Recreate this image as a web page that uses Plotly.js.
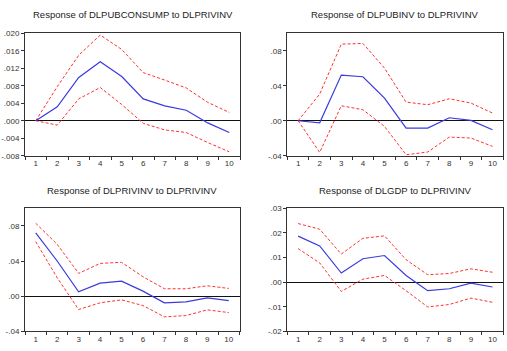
<!DOCTYPE html>
<html>
<head>
<meta charset="utf-8">
<script src="https://cdn.plot.ly/plotly-3.0.1.min.js"></script>
<style>html,body{margin:0;padding:0;background:#fff;}#chart{width:507px;height:351px;}</style>
</head>
<body>
<div id="chart"></div>
<script>
// Periods
const periods = [1, 2, 3, 4, 5, 6, 7, 8, 9, 10];

// Panel titles
const titles = [
  "Response of DLPUBCONSUMP to DLPRIVINV",
  "Response of DLPUBINV to DLPRIVINV",
  "Response of DLPRIVINV to DLPRIVINV",
  "Response of DLGDP to DLPRIVINV"
];

// Panel 1: DLPUBCONSUMP
const pubconsResp  = [0, 0.0032, 0.0099, 0.0135, 0.0101, 0.0050, 0.0034, 0.0024, -0.0005, -0.0027];
const pubconsUpper = [0, 0.0078, 0.0150, 0.0196, 0.0163, 0.0110, 0.0093, 0.0075, 0.0042, 0.0019];
const pubconsLower = [0, -0.0010, 0.0050, 0.0076, 0.0037, -0.0006, -0.0021, -0.0027, -0.0050, -0.0071];

// Panel 2: DLPUBINV
const pubinvResp  = [0, -0.0023, 0.0522, 0.0503, 0.0259, -0.0084, -0.0084, 0.0034, 0.0004, -0.0103];
const pubinvUpper = [0, 0.0305, 0.0876, 0.0884, 0.0602, 0.0213, 0.0183, 0.0251, 0.0202, 0.0088];
const pubinvLower = [0, -0.0362, 0.0171, 0.0126, -0.0065, -0.0389, -0.0358, -0.0187, -0.0198, -0.0293];

// Panel 3: DLPRIVINV
const privinvResp  = [0.0720, 0.0400, 0.0050, 0.0149, 0.0171, 0.0057, -0.0076, -0.0065, -0.0019, -0.0050];
const privinvUpper = [0.0830, 0.0590, 0.0259, 0.0373, 0.0385, 0.0221, 0.0084, 0.0084, 0.0118, 0.0088];
const privinvLower = [0.0621, 0.0210, -0.0152, -0.0076, -0.0042, -0.0107, -0.0236, -0.0221, -0.0156, -0.0187];

// Panel 4: DLGDP
const gdpResp  = [0.0187, 0.0147, 0.0037, 0.0095, 0.0108, 0.0027, -0.0035, -0.0027, -0.0004, -0.0020];
const gdpUpper = [0.0238, 0.0215, 0.0114, 0.0178, 0.0188, 0.0091, 0.0030, 0.0035, 0.0054, 0.0040];
const gdpLower = [0.0136, 0.0078, -0.0038, 0.0012, 0.0027, -0.0035, -0.0101, -0.0091, -0.0065, -0.0082];

// Y tick values and labels
const yTicks1 = [-0.008, -0.004, 0, 0.004, 0.008, 0.012, 0.016, 0.020];
const yLabels1 = ["-.008", "-.004", ".000", ".004", ".008", ".012", ".016", ".020"];
const yTicks2 = [-0.04, 0, 0.04, 0.08];
const yLabels2 = ["-.04", ".00", ".04", ".08"];
const yTicks3 = [-0.04, 0, 0.04, 0.08];
const yLabels3 = ["-.04", ".00", ".04", ".08"];
const yTicks4 = [-0.02, -0.01, 0, 0.01, 0.02, 0.03];
const yLabels4 = ["-.02", "-.01", ".00", ".01", ".02", ".03"];

const panels = [
  {resp: pubconsResp, up: pubconsUpper, lo: pubconsLower, yt: yTicks1, yl: yLabels1, yr: [-0.008, 0.020]},
  {resp: pubinvResp, up: pubinvUpper, lo: pubinvLower, yt: yTicks2, yl: yLabels2, yr: [-0.04, 0.10]},
  {resp: privinvResp, up: privinvUpper, lo: privinvLower, yt: yTicks3, yl: yLabels3, yr: [-0.04, 0.10]},
  {resp: gdpResp, up: gdpUpper, lo: gdpLower, yt: yTicks4, yl: yLabels4, yr: [-0.02, 0.03]}
];

const W = 507, H = 351;
const xDomains = [[25/W, 240/W], [287.3/W, 503.3/W], [25/W, 239.5/W], [287.3/W, 503.3/W]];
const yDomains = [[1-155.7/H, 1-33.3/H], [1-155.7/H, 1-33.3/H], [1-331.3/H, 1-208.3/H], [1-331.3/H, 1-208.3/H]];
const titleY = [1-15/H, 1-15/H, 1-190/H, 1-190/H];

const traces = [];
const layout = {
  width: W, height: H,
  margin: {l: 0, r: 0, t: 0, b: 0},
  paper_bgcolor: "#fff", plot_bgcolor: "#fff",
  showlegend: false,
  font: {family: "Liberation Sans, Arial, sans-serif", size: 8, color: "#333"},
  annotations: []
};

panels.forEach((p, i) => {
  const n = i + 1;
  const xa = "x" + (n === 1 ? "" : n), ya = "y" + (n === 1 ? "" : n);
  [p.up, p.lo].forEach(b => traces.push({
    x: periods, y: b, xaxis: xa, yaxis: ya, mode: "lines", type: "scatter",
    line: {color: "#ff3030", width: 1, dash: "3px,2px"}, hoverinfo: "skip"
  }));
  traces.push({
    x: periods, y: p.resp, xaxis: xa, yaxis: ya, mode: "lines", type: "scatter",
    line: {color: "#3a3ae0", width: 1.2}
  });
  const xkey = "xaxis" + (n === 1 ? "" : n), ykey = "yaxis" + (n === 1 ? "" : n);
  layout[xkey] = {
    domain: xDomains[i], anchor: ya, range: [0.5, 10.5],
    tickvals: periods, ticktext: periods.map(String), ticks: "", ticklen: 0,
    minor: {tick0: 0.5, dtick: 1, ticks: "outside", ticklen: 3, tickcolor: "#333", showgrid: false},
    showgrid: false, zeroline: false, showline: true, linecolor: "#333", linewidth: 1, mirror: true,
    tickfont: {size: 8, color: "#333"}, fixedrange: true
  };
  layout[ykey] = {
    domain: yDomains[i], anchor: xa, range: p.yr,
    tickvals: p.yt, ticktext: p.yl, ticks: "outside", ticklen: 3, tickcolor: "#333",
    showgrid: false, zeroline: true, zerolinecolor: "#111", zerolinewidth: 1,
    showline: true, linecolor: "#333", linewidth: 1, mirror: true,
    tickfont: {size: 8, color: "#333"}, fixedrange: true
  };
  layout.annotations.push({
    text: titles[i], xref: "paper", yref: "paper",
    x: (xDomains[i][0] + xDomains[i][1]) / 2, y: titleY[i],
    xanchor: "center", yanchor: "middle", showarrow: false,
    font: {size: 9.5, color: "#222", family: "Liberation Sans, Arial, sans-serif"}
  });
});

Plotly.newPlot("chart", traces, layout, {displayModeBar: false, staticPlot: true});
</script>
</body>
</html>
